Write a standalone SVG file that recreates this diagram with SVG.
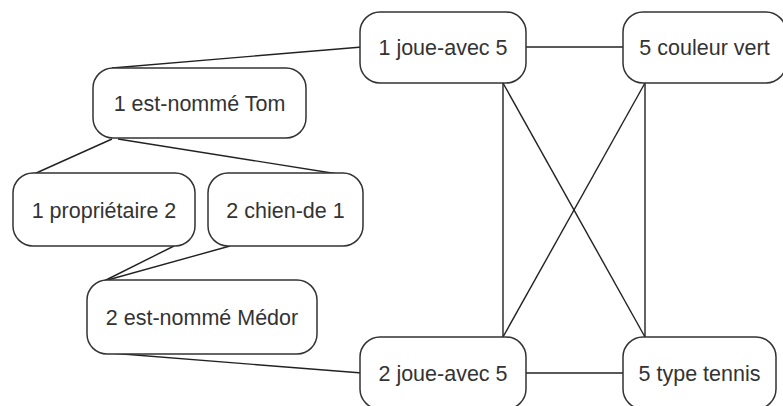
<svg xmlns="http://www.w3.org/2000/svg" width="783" height="406" viewBox="0 0 783 406">
<style>
.box{fill:#fff;stroke:#333;stroke-width:1.5}
.lbl{font-family:"Liberation Sans",Arial,sans-serif;font-size:21.5px;fill:#333;text-anchor:middle}
.edge{stroke:#222;stroke-width:1.4;fill:none}
</style>
<rect width="783" height="406" fill="#fff"/>
<g id="connectors">
<line class="edge" x1="362" y1="47" x2="112" y2="68"/>
<line class="edge" x1="112" y1="139" x2="34" y2="174"/>
<line class="edge" x1="118" y1="139" x2="338" y2="174"/>
<line class="edge" x1="174" y1="246" x2="104" y2="281"/>
<line class="edge" x1="230" y1="246" x2="104" y2="281"/>
<line class="edge" x1="110" y1="353" x2="362" y2="373"/>
<line class="edge" x1="526" y1="47" x2="623" y2="47"/>
<line class="edge" x1="503" y1="83" x2="503" y2="337"/>
<line class="edge" x1="503" y1="83" x2="645" y2="337"/>
<line class="edge" x1="645" y1="83" x2="503" y2="337"/>
<line class="edge" x1="645" y1="83" x2="645" y2="337"/>
<line class="edge" x1="526" y1="373" x2="623" y2="373"/>
</g>
<g id="n_joue1"><rect class="box" x="360" y="12" width="166" height="71" rx="20"/><text class="lbl" x="443" y="55">1 joue-avec 5</text></g>
<g id="n_couleur"><rect class="box" x="623" y="12" width="163" height="71" rx="20"/><text class="lbl" x="704.5" y="55">5 couleur vert</text></g>
<g id="n_tom"><rect class="box" x="93" y="68" width="213" height="70" rx="20"/><text class="lbl" x="199.5" y="110.5">1 est-nommé Tom</text></g>
<g id="n_proprio"><rect class="box" x="13" y="173" width="182" height="73" rx="20"/><text class="lbl" x="104" y="217.5">1 propriétaire 2</text></g>
<g id="n_chien"><rect class="box" x="208" y="173" width="155" height="73" rx="20"/><text class="lbl" x="285.5" y="217.5">2 chien-de 1</text></g>
<g id="n_medor"><rect class="box" x="87" y="280" width="230" height="74" rx="20"/><text class="lbl" x="202" y="324.5">2 est-nommé Médor</text></g>
<g id="n_joue2"><rect class="box" x="360" y="337" width="166" height="72" rx="20"/><text class="lbl" x="443" y="381">2 joue-avec 5</text></g>
<g id="n_tennis"><rect class="box" x="623" y="337" width="153" height="72" rx="20"/><text class="lbl" x="699.5" y="381">5 type tennis</text></g>
</svg>
